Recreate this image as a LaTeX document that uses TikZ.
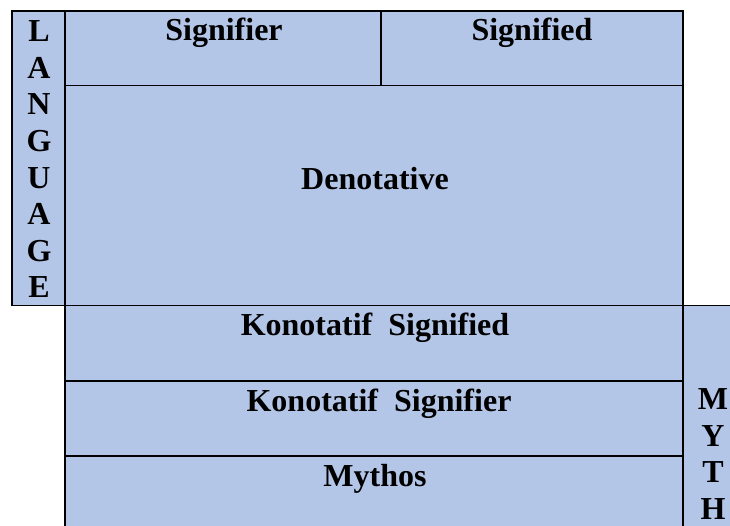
\documentclass[tikz,border=0pt]{standalone}
\usepackage{fontspec}
\setmainfont{Liberation Serif}
\definecolor{cellblue}{HTML}{B4C6E7}
\begin{document}
\begin{tikzpicture}[x=1pt,y=-1pt,
  grid/.style={line width=1.5pt,black},
  label/.style={font=\fontsize{32}{36.6}\selectfont\bfseries,inner sep=0pt,anchor=base},
  column/.style={font=\fontsize{32}{36.6}\selectfont\bfseries,inner sep=0pt,align=center}]
\useasboundingbox (0,0) rectangle (730,526);
\clip (0,0) rectangle (730,526);

% cell backgrounds
\fill[cellblue] (12,11) rectangle (683,305.5);
\fill[cellblue] (65,305.5) rectangle (745,540);

% upper table (language level)
\draw[grid] (12,11) rectangle (683,305.5);
\draw[grid] (65,11) -- (65,540);
\draw[grid] (65,85.5) -- (683,85.5);
\draw[grid] (381,11) -- (381,85.5);

% lower table (myth level)
\draw[grid] (12,305.5) -- (760,305.5);
\draw[grid] (683,305.5) -- (683,540);
\draw[grid] (65,381) -- (683,381);
\draw[grid] (65,456) -- (683,456);

% cell texts
\node[label] (sfr)  at (224,41)    {Signifier};
\node[label] (sfd)  at (532,41)    {Signified};
\node[label] (den)  at (375,189.5) {Denotative};
\node[label] (ksfd) at (375,335.5) {Konotatif\hspace{0.5em}Signified};
\node[label] (ksfr) at (379,411)   {Konotatif\hspace{0.5em}Signifier};
\node[label] (myt)  at (375,486)   {Mythos};

% vertical column headings
\node[column] (lang) at (39,159.4) {L\\A\\N\\G\\U\\A\\G\\E};
\node[column] (myth) at (713,454)  {M\\Y\\T\\H};
\end{tikzpicture}
\end{document}
